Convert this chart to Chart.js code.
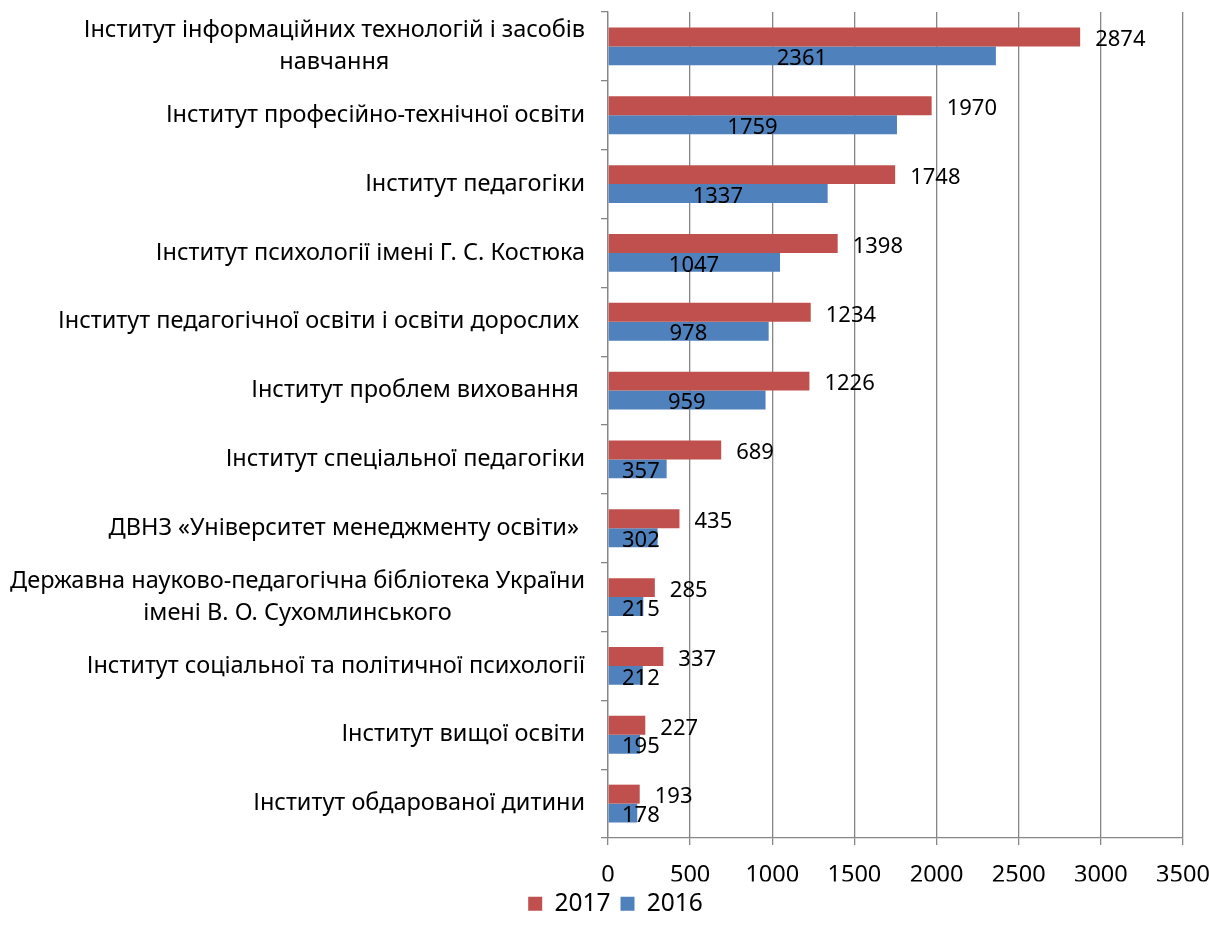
<!DOCTYPE html>
<html>
<head>
<meta charset="utf-8">
<script src="https://cdn.jsdelivr.net/npm/chart.js@4.4.0/dist/chart.umd.min.js"></script>
<style>
html, body { margin: 0; padding: 0; background: #fff; }
</style>
</head>
<body>
<canvas id="c" width="1210" height="938"></canvas>
<script>
// categories top to bottom, as in the picture
const categories = [
  ['Інститут інформаційних технологій і засобів', 'навчання'],
  'Інститут професійно-технічної освіти',
  'Інститут педагогіки',
  'Інститут психології імені Г. С. Костюка',
  'Інститут педагогічної освіти і освіти дорослих ',
  'Інститут проблем виховання ',
  'Інститут спеціальної педагогіки',
  'ДВНЗ «Університет менеджменту освіти» ',
  ['Державна науково-педагогічна бібліотека України', 'імені В. О. Сухомлинського'],
  'Інститут соціальної та політичної психології',
  'Інститут вищої освіти',
  'Інститут обдарованої дитини'
];
const values2017 = [2874, 1970, 1748, 1398, 1234, 1226, 689, 435, 285, 337, 227, 193];
const values2016 = [2361, 1759, 1337, 1047, 978, 959, 357, 302, 215, 212, 195, 178];
const seriesNames = ['2017', '2016'];
const xMin = 0, xMax = 3500, xStep = 500;

const FONT_FAMILY = '"Noto Sans", sans-serif';
const CAT_SIZE = 23.5;
const NUM_SIZE = 22;
const GRID = '#868686';

// category labels: lines of a wrapped label are centred on each other, block right aligned
const catLabels = {
  id: 'catLabels',
  afterDraw(chart) {
    const ctx = chart.ctx, y = chart.scales.y;
    const right = y.right - 23;
    ctx.save();
    ctx.font = CAT_SIZE + 'px ' + FONT_FAMILY;
    ctx.fillStyle = '#000';
    ctx.textBaseline = 'middle';
    ctx.textAlign = 'center';
    categories.forEach((lab, i) => {
      const lines = Array.isArray(lab) ? lab : [lab];
      const w = Math.max(...lines.map(l => ctx.measureText(l).width));
      const cy = y.getPixelForValue(i);
      lines.forEach((l, k) => {
        ctx.fillText(l, right - w / 2, cy + (k - (lines.length - 1) / 2) * 32);
      });
    });
    ctx.restore();
  }
};

// value labels
const valueLabels = {
  id: 'valueLabels',
  afterDatasetsDraw(chart) {
    const ctx = chart.ctx;
    const x0 = chart.scales.x.getPixelForValue(0);
    ctx.save();
    ctx.font = NUM_SIZE + 'px ' + FONT_FAMILY;
    ctx.fillStyle = '#000';
    ctx.textBaseline = 'middle';
    chart.data.datasets.forEach((ds, di) => {
      chart.getDatasetMeta(di).data.forEach((bar, i) => {
        const txt = String(ds.data[i]);
        const w = ctx.measureText(txt).width;
        if (di === 0) {
          ctx.textAlign = 'left';
          ctx.fillText(txt, bar.x + 15, bar.y + 3);
        } else {
          ctx.textAlign = 'center';
          const cx = Math.max((x0 + bar.x) / 2, x0 + 14 + w / 2);
          ctx.fillText(txt, cx, bar.y + 3);
        }
      });
    });
    ctx.restore();
  }
};

// legend sits a little right of the canvas centre
const legendShift = {
  id: 'legendShift',
  afterLayout(chart) {
    chart.legend.left += 24;
    chart.legend.right += 24;
  }
};

const PAD_BOTTOM = 12;

new Chart(document.getElementById('c'), {
  type: 'bar',
  data: {
    labels: categories,
    datasets: [
      { label: seriesNames[0], data: values2017, backgroundColor: '#C0504D' },
      { label: seriesNames[1], data: values2016, backgroundColor: '#4F81BD' }
    ]
  },
  options: {
    indexAxis: 'y',
    responsive: false,
    animation: false,
    categoryPercentage: 0.55,
    barPercentage: 1.0,
    layout: { padding: { top: 12, right: 27, left: 0, bottom: PAD_BOTTOM } },
    plugins: {
      legend: {
        position: 'bottom',
        labels: {
          boxWidth: 14, boxHeight: 14, padding: 10,
          color: '#000',
          font: { family: FONT_FAMILY, size: 24.5 }
        }
      },
      tooltip: { enabled: false }
    },
    scales: {
      x: {
        min: xMin, max: xMax,
        ticks: {
          stepSize: xStep, color: '#000', padding: 16,
          font: { family: FONT_FAMILY, size: 23.5 },
          callback: v => String(v)
        },
        grid: { color: GRID, tickLength: 7, lineWidth: 1.3 },
        border: { color: GRID, width: 1.3 },
        afterFit(s) {
          s.height = s.chart.height - 838 - s.chart.legend.height - PAD_BOTTOM;
          s.paddingRight = 0;
          s.paddingLeft = 0;
        }
      },
      y: {
        ticks: { display: false },
        grid: { drawOnChartArea: false, offset: true, color: GRID, tickLength: 7, lineWidth: 1.3 },
        border: { color: GRID, width: 1.3 },
        afterFit(s) { s.width = 608; }
      }
    }
  },
  plugins: [catLabels, valueLabels, legendShift]
});
</script>
</body>
</html>
